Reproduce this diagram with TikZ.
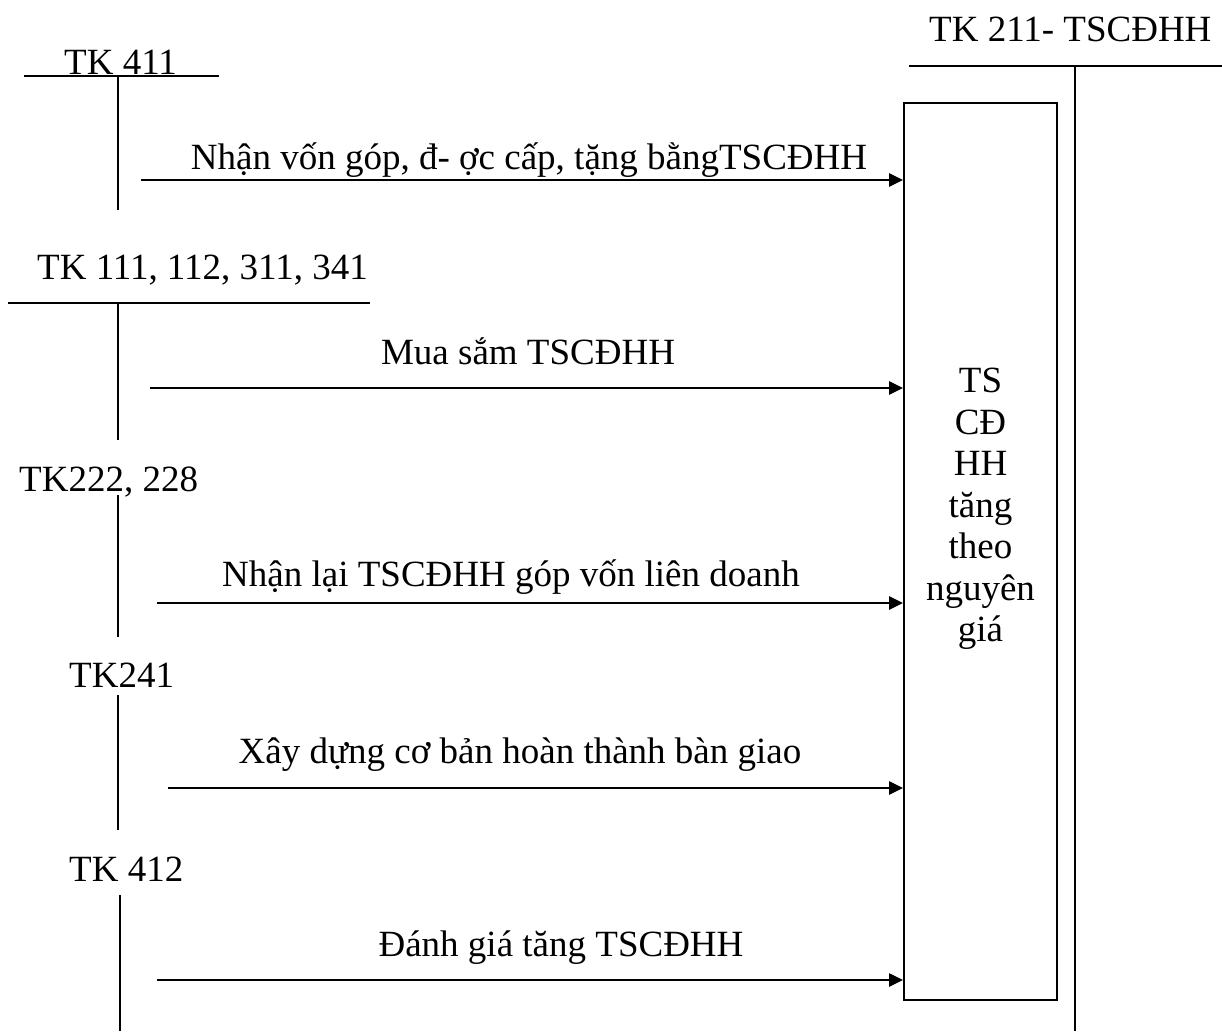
\documentclass[tikz,border=0pt]{standalone}
\usepackage{fontspec}
\setmainfont{Liberation Serif}
\usetikzlibrary{arrows.meta}
\begin{document}
\begin{tikzpicture}[x=1pt,y=-1pt,
  lbl/.style={inner sep=0pt,anchor=base,font=\fontsize{37}{41}\selectfont},
  acc/.style={line width=2pt},
  flow/.style={line width=2.6pt,-{Triangle[length=14pt,width=13pt]}},
  tbox/.style={draw,line width=2pt,minimum width=153pt,minimum height=897pt,inner sep=0pt}]
\useasboundingbox (0,0) rectangle (1222,1031);
% T-account TK 211
\node[lbl,anchor=base west] (t211) at (929,41) {TK 211- TSCĐHH};
\coordinate (h211a) at (909,66);
\coordinate (h211b) at (1222,66);
\coordinate (v211b) at (1075,1031);
\draw[acc] (h211a) -- (h211b);
\draw[acc] (1075,66) -- (v211b);
% box
\node[tbox] (box) at (980.5,551.5) {};
\node[lbl,align=center,anchor=north,font=\fontsize{37}{41.5}\selectfont] (boxtxt) at (980.5,368) {TS\\CĐ\\HH\\tăng\\theo\\nguyên\\giá};
% TK 411
\node[lbl,anchor=base west] (t411) at (64,74) {TK 411};
\draw[acc] (24,75.5) -- (219,75.5);
\draw[acc] (118,75.5) -- (118,210);
\coordinate (s1) at (141,180);
\draw[flow] (s1) -- (s1 -| box.west);
\node[lbl] (l1) at (529,169) {Nhận vốn góp, đ- ợc cấp, tặng bằngTSCĐHH};
% TK 111...
\node[lbl,anchor=base west] (t111) at (37,279) {TK 111, 112, 311, 341};
\draw[acc] (8,303) -- (370,303);
\draw[acc] (118,303) -- (118,440);
\coordinate (s2) at (150,388);
\draw[flow] (s2) -- (s2 -| box.west);
\node[lbl] (l2) at (528,364) {Mua sắm TSCĐHH};
% TK222
\node[lbl,anchor=base west] (t222) at (19,491) {TK222, 228};
\draw[acc] (118,495) -- (118,637);
\coordinate (s3) at (157,603);
\draw[flow] (s3) -- (s3 -| box.west);
\node[lbl] (l3) at (511,586) {Nhận lại TSCĐHH góp vốn liên doanh};
% TK241
\node[lbl,anchor=base west] (t241) at (69,687) {TK241};
\draw[acc] (118,695) -- (118,830);
\coordinate (s4) at (168,788);
\draw[flow] (s4) -- (s4 -| box.west);
\node[lbl] (l4) at (520,763) {Xây dựng cơ bản hoàn thành bàn giao};
% TK412
\node[lbl,anchor=base west] (t412) at (69,881) {TK 412};
\draw[acc] (120,895) -- (120,1031);
\coordinate (s5) at (157,980);
\draw[flow] (s5) -- (s5 -| box.west);
\node[lbl] (l5) at (561,956) {Đánh giá tăng TSCĐHH};
\end{tikzpicture}
\end{document}
